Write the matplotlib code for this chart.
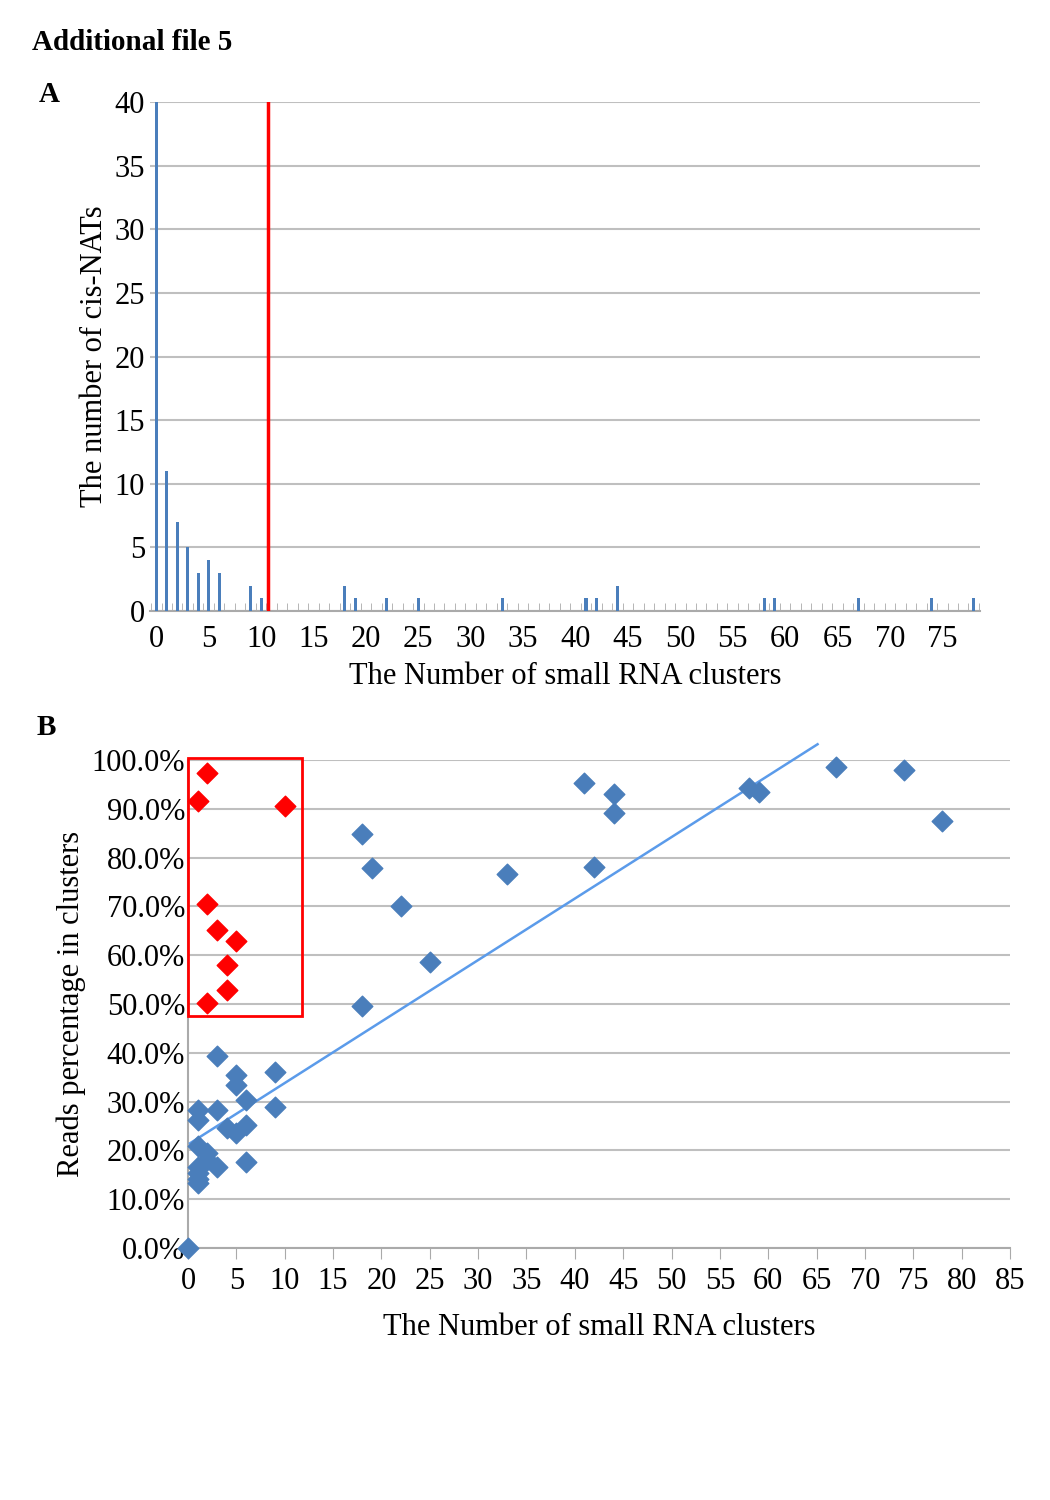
import numpy as np
import matplotlib.pyplot as plt
from matplotlib.patches import Rectangle

plt.rcParams['font.family'] = ['Liberation Serif', 'DejaVu Serif']

# Panel A: histogram of cis-NATs per number of small RNA clusters
hist_x = [0, 1, 2, 3, 4, 5, 6, 9, 10, 18, 19, 22, 25, 33, 41, 42, 44, 58, 59, 67, 74, 78]
hist_n = [40, 11, 7, 5, 3, 4, 3, 2, 1, 2, 1, 1, 1, 1, 1, 1, 2, 1, 1, 1, 1, 1]
cutoff = 10.7

# Panel B: reads percentage in clusters
red_x = [2, 1, 10, 2, 3, 5, 4, 4, 2]
red_y = [97.3, 91.5, 90.6, 70.4, 65.2, 62.9, 58.0, 52.9, 50.2]
blue_x = [18, 19, 22, 25, 18, 33, 41, 44, 44, 42, 58, 59, 67, 74, 78,
          3, 5, 5, 9, 6, 9, 1, 3, 1, 4, 5, 6, 1, 2, 2, 3, 6, 1, 1, 1, 1, 0]
blue_y = [84.8, 77.9, 70.0, 58.6, 49.6, 76.6, 95.3, 93.0, 89.1, 78.0, 94.3, 93.4, 98.6, 98.0, 87.5,
          39.3, 35.4, 33.4, 36.1, 30.3, 28.9, 28.3, 28.3, 26.2, 24.6, 23.5, 25.2, 20.8, 19.5,
          18.0, 16.7, 17.6, 16.5, 15.3, 13.3, 14.2, 0.0]
# trend line as drawn in the original (slope, intercept, x range)
trend_k, trend_b = 1.26, 21.2
trend_x = [0.2, 65.1]

blue = '#4a7ebb'
fs = 22
fig = plt.figure(figsize=(10.5, 15), dpi=100)
fig.text(0.03, 0.972, 'Additional file 5', fontsize=21, fontweight='bold', va='center')

# ---- A ----
ax1 = fig.add_axes([150/1050, 1 - 611/1500, 830/1050, 509/1500])
ax1.bar(hist_x, hist_n, width=0.3, color=blue, zorder=3)
ax1.axvline(cutoff, color='#ff0000', lw=2.5, zorder=4)
ax1.set_xlim(-0.6, 78.6)
ax1.set_ylim(0, 40)
ax1.set_yticks(range(0, 41, 5))
ax1.set_xticks(range(0, 76, 5))
ax1.set_xticks(np.arange(-0.5, 79, 1), minor=True)
ax1.tick_params(axis='x', which='minor', length=6, color='#aaaaaa', direction='in')
ax1.tick_params(axis='x', which='major', length=0, labelsize=fs, pad=10)
ax1.tick_params(axis='y', length=0, labelsize=fs)
ax1.yaxis.grid(True, color='#bfbfbf', lw=1.5, zorder=0)
for s in ['top', 'right', 'left']:
    ax1.spines[s].set_visible(False)
ax1.spines['bottom'].set_color('#aaaaaa')
ax1.spines['bottom'].set_linewidth(1.5)
ax1.set_xlabel('The Number of small RNA clusters', fontsize=fs, labelpad=6)
ax1.set_ylabel('The number of cis-NATs', fontsize=fs)
fig.text(0.037, 0.937, 'A', fontsize=21, fontweight='bold', va='center')

# ---- B ----
ax2 = fig.add_axes([188/1050, 1 - 1248/1500, 822/1050, 488/1500])
xl = np.array(trend_x)
ax2.plot(xl, trend_k * xl + trend_b, color='#5b9bea', lw=1.8, zorder=3, clip_on=False)
ax2.scatter(blue_x, blue_y, marker='D', s=110, color=blue, zorder=4, clip_on=False)
ax2.scatter(red_x, red_y, marker='D', s=110, color='#ff0000', zorder=5, clip_on=False)
ax2.add_patch(Rectangle((0, 47.5), 11.8, 52.9, fill=False, ec='#ff0000', lw=2, zorder=6, clip_on=False))
ax2.set_xlim(0, 85)
ax2.set_ylim(0, 100)
ax2.set_xticks(range(0, 86, 5))
ax2.set_yticks(range(0, 101, 10))
ax2.set_yticklabels(['%.1f%%' % v for v in range(0, 101, 10)])
ax2.tick_params(axis='x', length=8, color='#aaaaaa', labelsize=fs, pad=6)
ax2.tick_params(axis='y', length=0, labelsize=fs, pad=2)
ax2.yaxis.grid(True, color='#bfbfbf', lw=1.5, zorder=0)
for s in ['top', 'right']:
    ax2.spines[s].set_visible(False)
for s in ['bottom', 'left']:
    ax2.spines[s].set_color('#aaaaaa')
    ax2.spines[s].set_linewidth(1.5)
ax2.set_xlabel('The Number of small RNA clusters', fontsize=fs, labelpad=12)
ax2.set_ylabel('Reads percentage in clusters', fontsize=fs)
fig.text(0.035, 0.515, 'B', fontsize=21, fontweight='bold', va='center')

fig.savefig('out.png', dpi=100)
